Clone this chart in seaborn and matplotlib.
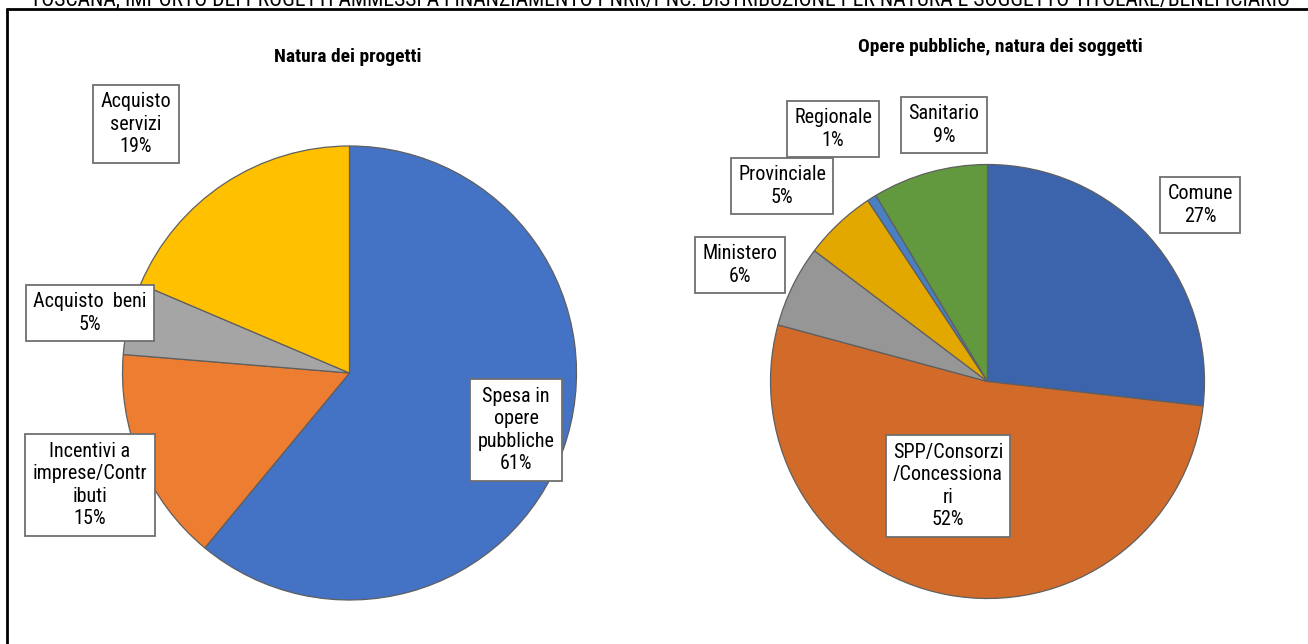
import matplotlib
matplotlib.use("Agg")
import matplotlib.pyplot as plt
import seaborn as sns
from matplotlib.lines import Line2D

sns.set_theme(style="white")
plt.rcParams['font.family'] = ['Roboto Condensed', 'Archivo Narrow', 'DejaVu Sans']

# ---------------- data ----------------
main_title = ("TOSCANA, IMPORTO DEI PROGETTI AMMESSI A FINANZIAMENTO PNRR/PNC: "
              "DISTRIBUZIONE PER NATURA E SOGGETTO TITOLARE/BENEFICIARIO")

title_left = "Natura dei progetti"
cats_left = ["Spesa in\nopere\npubbliche", "Incentivi a\nimprese/Contr\nibuti",
             "Acquisto  beni", "Acquisto\nservizi"]
vals_left = [61.0, 15.3, 5.1, 18.6]
colors_left = ["#4472C4", "#ED7D31", "#A5A5A5", "#FFC000"]

title_right = "Opere pubbliche, natura dei soggetti"
cats_right = ["Comune", "SPP/Consorzi\n/Concessiona\nri", "Ministero",
              "Provinciale", "Regionale", "Sanitario"]
vals_right = [26.8, 52.4, 6.1, 5.4, 0.7, 8.6]
colors_right = ["#3B64AD", "#D26B29", "#969696", "#E3A800", "#4A7FC1", "#62993E"]

# label box centres (pixels from top-left)
lab_pos_left = [(516, 430), (90, 485), (90, 313), (136, 124)]
lab_pos_right = [(1200, 205), (948, 486), (740, 265), (782, 186), (833, 129), (944, 125)]

W, H = 1308, 644
fig = plt.figure(figsize=(W / 100, H / 100), dpi=100)
fig.patch.set_facecolor("white")


def pie_axes(cx, cy, r):
    ax = fig.add_axes([(cx - r) / W, (H - cy - r) / H, 2 * r / W, 2 * r / H])
    return ax


def draw_pie(ax, vals, colors):
    ax.pie(vals, colors=colors, startangle=90, counterclock=False, radius=1,
           wedgeprops=dict(edgecolor="#5f5f5f", linewidth=0.9))
    ax.set_xlim(-1.0, 1.0)
    ax.set_ylim(-1.0, 1.0)
    ax.set_aspect("equal")
    ax.axis("off")


ax1 = pie_axes(349.5, 373, 227)
draw_pie(ax1, vals_left, colors_left)
ax2 = pie_axes(987.5, 381.5, 217)
draw_pie(ax2, vals_right, colors_right)

box = dict(boxstyle="square,pad=0.36", facecolor="white", edgecolor="#6f6f6f", linewidth=1.3)


def labels(cats, vals, pos):
    total = sum(vals)
    for c, v, (x, y) in zip(cats, vals, pos):
        fig.text(x / W, 1 - y / H, f"{c}\n{v / total * 100:.0f}%", ha="center", va="center",
                 fontsize=14.5, color="black", bbox=box, linespacing=1.24)


labels(cats_left, vals_left, lab_pos_left)
labels(cats_right, vals_right, lab_pos_right)

fig.text(348 / W, 1 - 57 / H, title_left, ha="center", va="center",
         fontsize=14, fontweight="bold", color="black")
fig.text(1000 / W, 1 - 47 / H, title_right, ha="center", va="center",
         fontsize=14, fontweight="bold", color="black")

fig.text(660 / W, 1 - 5 / H, main_title, ha="center", va="baseline",
         fontsize=15.6, color="black")

# outer frame (left and top edges visible)
fig.add_artist(Line2D([7 / W, 7 / W], [0, 1 - 9 / H], color="black", linewidth=2.0,
                      transform=fig.transFigure))
fig.add_artist(Line2D([7 / W, 1], [1 - 9 / H, 1 - 9 / H], color="black", linewidth=2.0,
                      transform=fig.transFigure))

fig.savefig("out.png", dpi=100, facecolor="white")
